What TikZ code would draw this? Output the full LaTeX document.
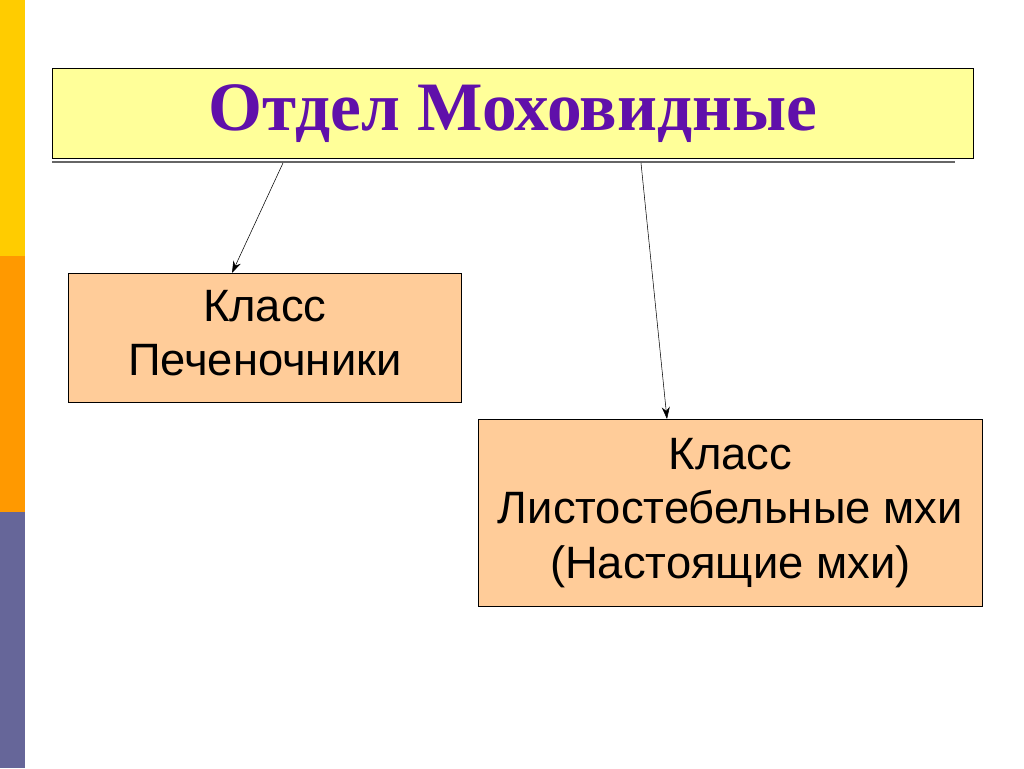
\documentclass[tikz,border=0pt]{standalone}
\usepackage{fontspec}
\setmainfont{Liberation Sans}
\newfontfamily\titlefont{Liberation Serif}
\usetikzlibrary{arrows.meta,positioning}
\definecolor{titlefill}{RGB}{255,255,153}
\definecolor{titletext}{RGB}{96,16,170}
\definecolor{classfill}{RGB}{255,204,153}
\definecolor{barA}{RGB}{255,204,0}
\definecolor{barB}{RGB}{255,153,0}
\definecolor{barC}{RGB}{102,102,153}
\tikzset{
  titlebox/.style={draw=black, fill=titlefill, minimum width=921*0.75pt, minimum height=90*0.75pt, inner sep=0pt, font=\titlefont\fontsize{52}{56}\selectfont\bfseries, text=titletext},
  classbox/.style={draw=black, fill=classfill, align=center, inner sep=0pt, font=\fontsize{34}{41}\selectfont},
  arrow/.style={-{Stealth[length=9pt,width=6pt]}, thin}
}
\begin{document}
\begin{tikzpicture}[x=0.75pt,y=-0.75pt]
  \useasboundingbox (0,0) rectangle (1024,768);
  \fill[white] (0,0) rectangle (1024,768);
  % side stripe
  \fill[barA] (0,0) rectangle (25,256);
  \fill[barB] (0,256) rectangle (25,512);
  \fill[barC] (0,512) rectangle (25,768);
  % title with shadow line
  \draw[gray!80!black, line width=1.8pt] (52,162) -- (955,162);
  \node (Division) [titlebox, anchor=north west] at (52,68) {Отдел Моховидные};
  \node (Liverworts) [classbox, anchor=north west, minimum width=393*0.75pt, minimum height=129*0.75pt] at (68,273) {Класс\\Печеночники\vphantom{y}};
  \node (Mosses) [classbox, anchor=north west, minimum width=504*0.75pt, minimum height=187*0.75pt] at (478,419) {Класс\\Листостебельные мхи\\(Настоящие мхи)};
  \coordinate (DivLeft) at (283,163);
  \coordinate (DivRight) at (641,163);
  \draw [arrow] (DivLeft) -- (Liverworts.north -| 232,0);
  \draw [arrow] (DivRight) -- (Mosses.north -| 667,0);
\end{tikzpicture}
\end{document}
